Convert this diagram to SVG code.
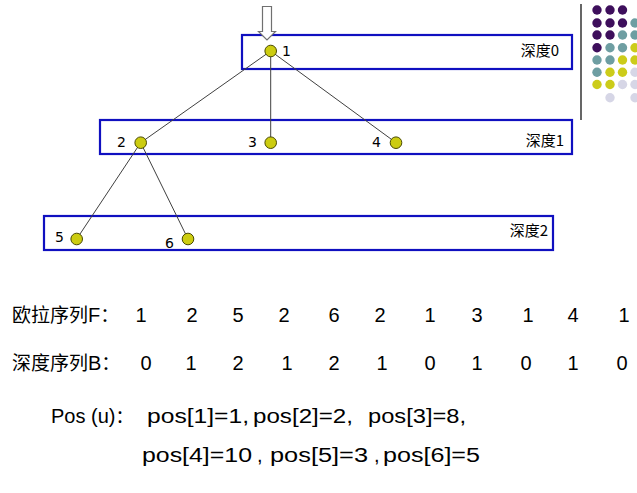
<svg xmlns="http://www.w3.org/2000/svg" width="637" height="493" viewBox="0 0 637 493">
<defs>
<style>
.box{fill:none;stroke:#1010C0;stroke-width:2.2}
.node{fill:#CCCC10;stroke:#4a4a00;stroke-width:1}
.edge{stroke:#404040;stroke-width:1;fill:none}
.lbl{font-family:"DejaVu Sans","Liberation Sans",sans-serif;font-size:14px;fill:#000}
.dep{font-family:"Noto Sans CJK SC","Liberation Sans",sans-serif;font-size:15px;fill:#000}
.seq{font-family:"Liberation Sans","DejaVu Sans",sans-serif;font-size:20px;fill:#000;text-anchor:middle}
.cjk{font-family:"Noto Sans CJK SC","Liberation Sans",sans-serif;font-size:19px;fill:#000}
.pos{font-family:"Liberation Sans","DejaVu Sans",sans-serif;font-size:20px;fill:#000}
.p{fill:#3e0f5c}.t{fill:#6e9ea2}.y{fill:#cccc1a}.l{fill:#d6d6e6}
</style>
</defs>
<rect width="637" height="493" fill="#fff"/>
<g id="decor">
<line x1="581" y1="4" x2="581" y2="120" stroke="#000" stroke-width="1.2"/>
<g>
<circle class="p" cx="597" cy="10" r="4.7"/><circle class="p" cx="610" cy="10" r="4.7"/><circle class="p" cx="622.5" cy="10" r="4.7"/>
<circle class="p" cx="597" cy="23" r="4.7"/><circle class="p" cx="610" cy="23" r="4.7"/><circle class="p" cx="622.5" cy="23" r="4.7"/><circle class="t" cx="635" cy="23" r="4.7"/>
<circle class="p" cx="597" cy="35" r="4.7"/><circle class="p" cx="610" cy="35" r="4.7"/><circle class="t" cx="622.5" cy="35" r="4.7"/><circle class="t" cx="635" cy="35" r="4.7"/>
<circle class="p" cx="597" cy="47.7" r="4.7"/><circle class="t" cx="610" cy="47.7" r="4.7"/><circle class="t" cx="622.5" cy="47.7" r="4.7"/><circle class="y" cx="635" cy="47.7" r="4.7"/>
<circle class="t" cx="597" cy="60" r="4.7"/><circle class="t" cx="610" cy="60" r="4.7"/><circle class="y" cx="622.5" cy="60" r="4.7"/><circle class="y" cx="635" cy="60" r="4.7"/>
<circle class="t" cx="597" cy="72.3" r="4.7"/><circle class="y" cx="610" cy="72.3" r="4.7"/><circle class="y" cx="622.5" cy="72.3" r="4.7"/><circle class="l" cx="635" cy="72.3" r="4.7"/>
<circle class="y" cx="597" cy="84.5" r="4.7"/><circle class="y" cx="610" cy="84.5" r="4.7"/><circle class="l" cx="622.5" cy="84.5" r="4.7"/><circle class="l" cx="635" cy="84.5" r="4.7"/>
<circle class="l" cx="610" cy="97.7" r="4.7"/><circle class="l" cx="635" cy="97.7" r="4.7"/>
</g>
</g>
<g id="levels">
<rect class="box" x="242" y="35" width="330" height="34"/>
<text class="dep" x="559" y="56" text-anchor="end">深度0</text>
<rect class="box" x="100" y="120" width="472" height="34"/>
<text class="dep" x="564" y="146" text-anchor="end">深度1</text>
<rect class="box" x="44" y="216" width="509" height="34"/>
<text class="dep" x="548" y="236" text-anchor="end">深度2</text>
</g>
<g id="start-arrow">
<path d="M262.5,6.5 H271.5 V31.5 H275.5 L267,40 L258.5,31.5 H262.5 Z" fill="#fff" stroke="#707070" stroke-width="1.2"/>
</g>
<g id="connectors">
<line class="edge" x1="270.7" y1="51" x2="140.7" y2="142.7"/>
<line class="edge" x1="270.7" y1="51" x2="270.7" y2="142.7"/>
<line class="edge" x1="270.7" y1="51" x2="396" y2="142.7"/>
<line class="edge" x1="140.7" y1="142.7" x2="76.7" y2="239"/>
<line class="edge" x1="140.7" y1="142.7" x2="188" y2="239"/>
</g>
<g id="n1"><circle class="node" cx="270.7" cy="51" r="5.8"/><text class="lbl" x="282" y="56">1</text></g>
<g id="n2"><circle class="node" cx="140.7" cy="142.7" r="5.8"/><text class="lbl" x="117" y="147">2</text></g>
<g id="n3"><circle class="node" cx="270.7" cy="142.7" r="5.8"/><text class="lbl" x="248" y="147">3</text></g>
<g id="n4"><circle class="node" cx="396" cy="142.7" r="5.8"/><text class="lbl" x="372" y="147">4</text></g>
<g id="n5"><circle class="node" cx="76.7" cy="239" r="5.8"/><text class="lbl" x="55" y="242">5</text></g>
<g id="n6"><circle class="node" cx="188" cy="239" r="5.8"/><text class="lbl" x="165" y="248">6</text></g>
<g id="sequences">
<text class="cjk" x="12" y="322">欧拉序列<tspan font-family="Liberation Sans, sans-serif" font-size="20">F</tspan>：</text>
<g>
<text class="seq" x="141" y="322">1</text><text class="seq" x="192" y="322">2</text><text class="seq" x="238" y="322">5</text><text class="seq" x="284" y="322">2</text><text class="seq" x="334" y="322">6</text><text class="seq" x="380" y="322">2</text><text class="seq" x="430" y="322">1</text><text class="seq" x="477" y="322">3</text><text class="seq" x="528" y="322">1</text><text class="seq" x="573" y="322">4</text><text class="seq" x="624" y="322">1</text>
</g>
<text class="cjk" x="12" y="370">深度序列<tspan font-family="Liberation Sans, sans-serif" font-size="20">B</tspan>：</text>
<g>
<text class="seq" x="146" y="370">0</text><text class="seq" x="191" y="370">1</text><text class="seq" x="238" y="370">2</text><text class="seq" x="287" y="370">1</text><text class="seq" x="334" y="370">2</text><text class="seq" x="382" y="370">1</text><text class="seq" x="430" y="370">0</text><text class="seq" x="477" y="370">1</text><text class="seq" x="526" y="370">0</text><text class="seq" x="573" y="370">1</text><text class="seq" x="622" y="370">0</text>
</g>
</g>
<g id="positions">
<text class="pos" x="51" y="423">Pos (u)<tspan font-family="Noto Sans CJK SC, sans-serif" font-size="18">：</tspan></text>
<text class="pos" x="147" y="423" textLength="102" lengthAdjust="spacingAndGlyphs">pos[1]=1,</text>
<text class="pos" x="253" y="423" textLength="100" lengthAdjust="spacingAndGlyphs">pos[2]=2,</text>
<text class="pos" x="368" y="423" textLength="98" lengthAdjust="spacingAndGlyphs">pos[3]=8,</text>
<text class="pos" x="142" y="462" textLength="110" lengthAdjust="spacingAndGlyphs">pos[4]=10</text>
<text class="pos" x="257" y="462">,</text>
<text class="pos" x="270" y="462" textLength="98" lengthAdjust="spacingAndGlyphs">pos[5]=3</text>
<text class="pos" x="374" y="462">,</text>
<text class="pos" x="383" y="462" textLength="97" lengthAdjust="spacingAndGlyphs">pos[6]=5</text>
</g>
</svg>
